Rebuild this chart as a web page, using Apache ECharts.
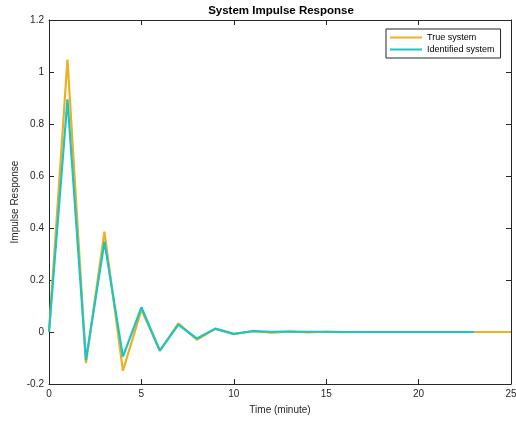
<!DOCTYPE html>
<html>
<head>
<meta charset="utf-8">
<script src="https://cdn.jsdelivr.net/npm/echarts@6/dist/echarts.min.js"></script>
<style>
html,body{margin:0;padding:0;background:#fff;}
#c{width:516px;height:423px;}
</style>
</head>
<body>
<div id="c"></div>
<script>
const timeTrue = [0,1,2,3,4,5,6,7,8,9,10,11,12,13,14,15,16,17,18,19,20,21,22,23,24,25];
const trueVals = [0,1.048,-0.12,0.386,-0.149,0.085,-0.072,0.033,-0.030,0.012,-0.008,0.004,-0.003,0.002,-0.002,0.001,-0.001,0,0,0,0,0,0,0,0,0];
const timeIdent = [0,1,2,3,4,5,6,7,8,9,10,11,12,13,14,15,16,17,18,19,20,21,22,23];
const identVals = [0,0.895,-0.108,0.347,-0.095,0.095,-0.072,0.028,-0.025,0.013,-0.007,0.003,0.001,0.002,0.001,0.001,0,0,0,0,0,0,0,0];
const seriesNames = ['True system','Identified system'];

const font = 'Liberation Sans, Arial, Helvetica, sans-serif';
const axisColor = '#262626';
const chart = echarts.init(document.getElementById('c'));

function pairs(xs, ys){ return xs.map((x,i)=>[x, ys[i]]); }

const baseAxis = {
  axisLine:{show:true, onZero:false, lineStyle:{color:axisColor, width:1}},
  axisTick:{show:true, inside:true, length:5, lineStyle:{color:axisColor}},
  splitLine:{show:false}
};

chart.setOption({
  animation:false,
  backgroundColor:'#fff',
  title:{
    text:'System Impulse Response',
    left:276, top:0, textAlign:'center',
    textStyle:{fontFamily:font, fontSize:11.5, fontWeight:'bold', color:'#000'}
  },
  grid:{left:49, right:5, top:20, bottom:39, containLabel:false, outerBoundsMode:'none'},
  legend:{
    data:seriesNames.map(n=>({name:n, icon:'rect'})),
    orient:'vertical',
    left:386, top:29,
    itemWidth:32, itemHeight:2, itemGap:1,
    padding:[3,6,3,4],
    borderColor:axisColor, borderWidth:1, backgroundColor:'#fff',
    textStyle:{fontFamily:font, fontSize:9, color:'#000', lineHeight:11}
  },
  xAxis:[
    Object.assign({}, baseAxis, {
      type:'value', position:'bottom', min:0, max:25, interval:5,
      name:'Time (minute)', nameLocation:'middle', nameGap:21, nameMoveOverlap:false,
      nameTextStyle:{fontFamily:font, fontSize:10, color:axisColor},
      axisLabel:{show:true, fontFamily:font, fontSize:10, color:axisColor, margin:5}
    }),
    Object.assign({}, baseAxis, {
      type:'value', position:'top', min:0, max:25, interval:5,
      axisLabel:{show:false}
    })
  ],
  yAxis:[
    Object.assign({}, baseAxis, {
      type:'value', position:'left', min:-0.2, max:1.2, interval:0.2,
      name:'Impulse Response', nameLocation:'middle', nameGap:29, nameMoveOverlap:false,
      nameTextStyle:{fontFamily:font, fontSize:10, color:axisColor},
      axisLabel:{show:true, fontFamily:font, fontSize:10, color:axisColor, margin:5,
        formatter:v=>String(Math.round(v*10)/10)}
    }),
    Object.assign({}, baseAxis, {
      type:'value', position:'right', min:-0.2, max:1.2, interval:0.2,
      axisLabel:{show:false}
    })
  ],
  series:[
    {
      name:seriesNames[0], type:'line', symbol:'none',
      data:pairs(timeTrue, trueVals),
      lineStyle:{color:'#EDB120', width:2.2},
      itemStyle:{color:'#EDB120'}
    },
    {
      name:seriesNames[1], type:'line', symbol:'none',
      data:pairs(timeIdent, identVals),
      lineStyle:{color:'#1CC4C4', width:2.2},
      itemStyle:{color:'#1CC4C4'}
    }
  ]
});
</script>
</body>
</html>
